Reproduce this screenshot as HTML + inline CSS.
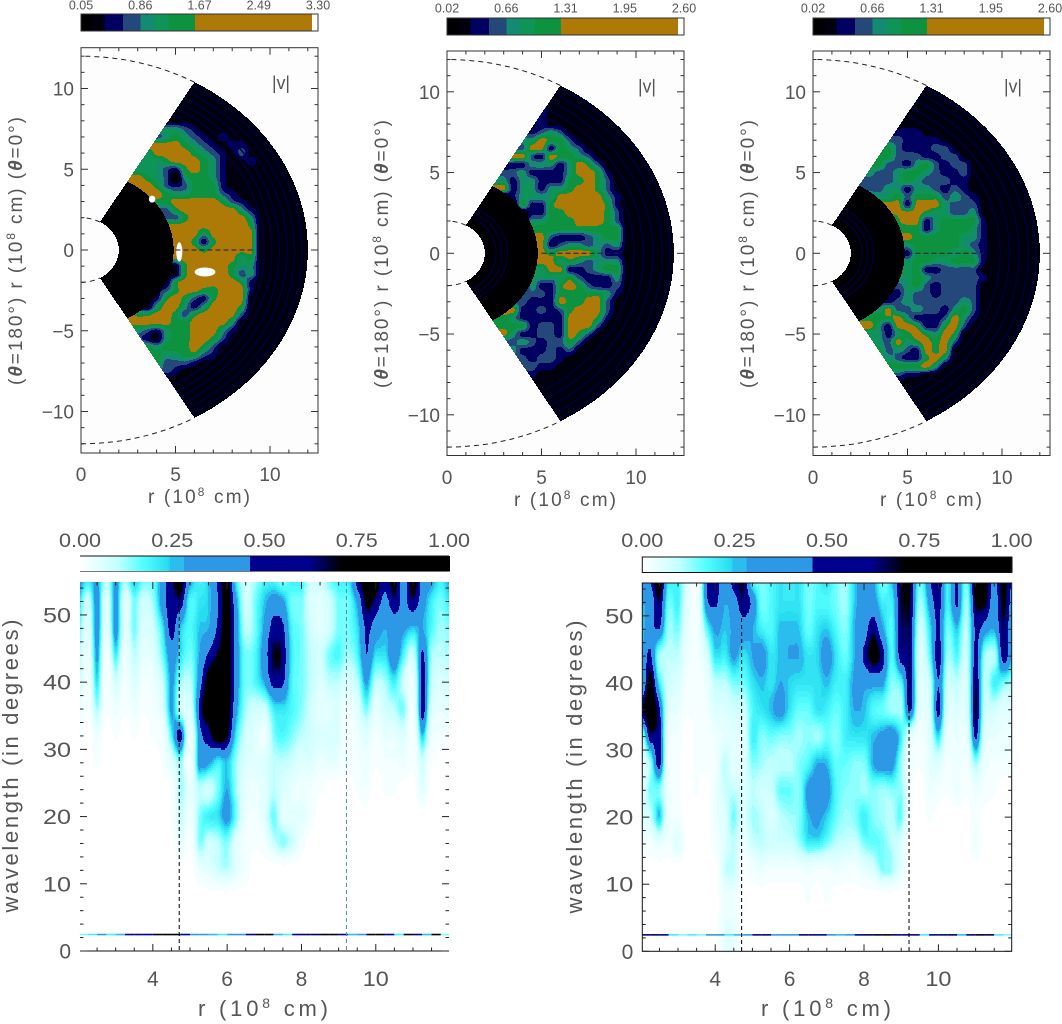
<!DOCTYPE html>
<html>
<head>
<meta charset="utf-8">
<title>Velocity magnitude wedges and wavelength spectra</title>
<style>
html,body{margin:0;padding:0;background:#fff;}
svg{display:block;}
text{font-family:"Liberation Sans",sans-serif;fill:#555555;}
</style>
</head>
<body>
<svg id="figure" xmlns="http://www.w3.org/2000/svg" width="1062" height="1024" viewBox="0 0 1062 1024">
<g id="plots"></g>
<g>
<text x="199" y="503" text-anchor="middle" font-size="19" textLength="102">r (10<tspan dy="-7" font-size="12">8</tspan><tspan dy="7"> cm)</tspan></text>
<text x="565" y="506" text-anchor="middle" font-size="19" textLength="102">r (10<tspan dy="-7" font-size="12">8</tspan><tspan dy="7"> cm)</tspan></text>
<text x="931" y="506" text-anchor="middle" font-size="19" textLength="102">r (10<tspan dy="-7" font-size="12">8</tspan><tspan dy="7"> cm)</tspan></text>
<text transform="translate(22,251) rotate(-90)" text-anchor="middle" font-size="19" textLength="268">(<tspan font-weight="bold" font-style="italic">θ</tspan>=180°)  r (10<tspan dy="-7" font-size="12">8</tspan><tspan dy="7"> cm)  (</tspan><tspan font-weight="bold" font-style="italic">θ</tspan>=0°)</text>
<text transform="translate(388,254) rotate(-90)" text-anchor="middle" font-size="19" textLength="268">(<tspan font-weight="bold" font-style="italic">θ</tspan>=180°)  r (10<tspan dy="-7" font-size="12">8</tspan><tspan dy="7"> cm)  (</tspan><tspan font-weight="bold" font-style="italic">θ</tspan>=0°)</text>
<text transform="translate(754,254) rotate(-90)" text-anchor="middle" font-size="19" textLength="268">(<tspan font-weight="bold" font-style="italic">θ</tspan>=180°)  r (10<tspan dy="-7" font-size="12">8</tspan><tspan dy="7"> cm)  (</tspan><tspan font-weight="bold" font-style="italic">θ</tspan>=0°)</text>
<text x="263" y="1016" text-anchor="middle" font-size="22" textLength="130">r (10<tspan dy="-8" font-size="14">8</tspan><tspan dy="8"> cm)</tspan></text>
<text x="826" y="1016" text-anchor="middle" font-size="22" textLength="130">r (10<tspan dy="-8" font-size="14">8</tspan><tspan dy="8"> cm)</tspan></text>
<text transform="translate(18,766) rotate(-90)" text-anchor="middle" font-size="22" textLength="293">wavelength (in degrees)</text>
<text transform="translate(582,767) rotate(-90)" text-anchor="middle" font-size="22" textLength="293">wavelength (in degrees)</text>
</g>
</svg>
<script>
// ---- wedge chart values: speed levels on a regular (x, y) grid, in 10^8 cm ----
const wedgeXs = [2.5,3,3.5,4,4.5,5,5.5,6,6.5,7,7.5,8,8.5,9,9.5,10];
const wedgeYs = [8,7.5,7,6.5,6,5.5,5,4.5,4,3.5,3,2.5,2,1.5,1,0.5,0,-0.5,-1,-1.5,-2,-2.5,-3,-3.5,-4,-4.5,-5,-5.5,-6,-6.5,-7,-7.5,-8];
const speedLevelsA = [
[0,0,0,1,1,1,1,1,1,1,1,1,1,1,1,1],
[0,0,0,4,4,4,3,2,1,1,1,1,1,1,1,1],
[0,0,4,3,4,5,4,3,2,1,2,1,1,1,1,1],
[0,0,6,6,6,6,5,4,3,2,1,2,2,1,1,1],
[0,4,4,6,6,6,6,5,4,3,2,1,3,1,1,1],
[4,4,4,4,5,6,6,6,5,4,2,1,1,2,1,1],
[4,4,4,4,3,2,5,6,5,4,2,1,1,1,1,1],
[6,6,5,4,3,0,4,5,5,4,2,1,1,1,1,1],
[6,6,6,5,3,2,3,5,5,5,2,1,1,1,1,1],
[6,6,6,6,5,4,4,5,5,5,3,2,1,1,1,1],
[6,6,6,5,5,6,6,6,6,6,5,3,2,1,1,1],
[0,0,3,3,3,5,6,6,6,6,6,6,4,2,1,1],
[0,0,0,1,3,3,5,6,6,6,6,6,6,4,1,1],
[0,0,0,0,6,6,6,6,6,6,6,6,6,5,1,1],
[0,0,0,0,6,6,6,6,4,6,6,6,6,6,1,1],
[0,0,0,0,6,6,6,5,2,5,6,6,6,6,1,1],
[0,0,0,0,6,6,6,6,5,6,6,6,6,6,1,1],
[0,0,0,0,6,6,6,6,6,6,6,6,4,5,1,1],
[0,0,0,0,1,1,5,6,6,6,6,5,4,4,1,1],
[0,0,0,0,1,1,5,6,6,6,6,5,3,4,1,1],
[0,0,0,1,1,5,6,6,6,6,6,6,5,2,1,1],
[0,0,2,2,3,5,6,6,5,5,6,6,6,2,1,1],
[2,2,2,2,5,6,5,3,2,5,6,6,6,1,1,1],
[2,2,1,4,6,6,4,2,4,6,6,6,5,1,1,1],
[6,5,5,6,6,5,3,5,6,6,6,6,3,1,1,1],
[6,6,6,6,6,5,5,6,6,6,6,4,1,1,1,1],
[4,4,3,2,4,5,5,6,6,6,4,2,1,1,1,1],
[4,3,2,1,4,5,5,6,6,5,3,1,1,1,1,1],
[5,5,5,4,5,5,5,6,5,3,1,1,1,1,1,1],
[5,5,5,5,4,4,5,5,3,2,1,1,1,1,1,1],
[0,5,5,5,3,3,3,2,1,1,1,1,1,1,1,1],
[0,0,0,3,3,2,1,1,1,1,1,1,1,1,1,1],
[0,0,0,1,1,1,1,1,1,1,1,1,1,1,1,1]];
const speedLevelsB = [
[0,0,0,1,1,2,1,1,1,1,1,1,1,1,1,1],
[0,0,0,2,2,3,4,3,1,1,1,1,1,1,1,1],
[0,0,4,4,4,6,5,5,3,1,1,1,1,1,1,1],
[0,0,3,3,6,6,2,5,4,3,1,1,1,1,1,1],
[0,6,6,6,3,2,6,5,5,4,3,1,1,1,1,1],
[2,2,2,2,4,4,4,2,4,6,5,3,1,1,1,1],
[3,3,3,4,2,2,2,2,4,6,6,5,2,1,1,1],
[4,4,2,4,4,2,2,2,5,5,6,5,3,1,1,1],
[6,6,2,4,4,2,4,4,5,6,6,5,3,1,1,1],
[0,0,2,4,4,4,4,6,6,6,6,6,4,2,1,1],
[0,0,0,5,2,2,5,6,6,6,6,6,5,2,1,1],
[0,0,0,0,2,2,5,5,6,6,6,6,5,3,1,1],
[0,0,0,0,4,4,5,5,5,6,6,6,5,3,1,1],
[0,0,0,0,5,5,5,5,5,5,5,5,5,5,1,1],
[0,0,0,0,6,6,3,2,2,2,3,4,5,5,1,1],
[0,0,0,0,6,6,2,3,4,4,3,4,3,4,1,1],
[0,0,0,0,6,6,5,6,6,6,6,4,2,2,1,1],
[0,0,0,0,6,6,6,4,5,4,3,4,4,4,1,1],
[0,0,0,0,4,4,6,6,2,2,3,4,5,5,1,1],
[0,0,0,0,4,4,4,4,5,3,2,2,2,4,1,1],
[0,0,0,0,4,2,2,5,6,5,3,2,2,3,1,1],
[0,0,0,3,3,3,2,5,5,5,5,5,4,2,1,1],
[0,0,3,3,2,2,2,6,5,5,6,6,3,1,1,1],
[6,6,6,2,2,3,2,3,5,6,6,6,3,1,1,1],
[5,5,4,2,2,2,2,2,6,6,6,5,2,1,1,1],
[5,5,5,5,2,3,3,2,6,6,6,3,1,1,1,1],
[6,6,4,2,2,3,3,2,6,5,3,1,1,1,1,1],
[3,3,3,4,3,2,3,3,5,3,1,1,1,1,1,1],
[4,4,4,2,2,2,3,2,3,1,1,1,1,1,1,1],
[0,3,3,3,2,3,3,2,1,1,1,1,1,1,1,1],
[0,0,3,3,3,2,2,1,1,1,1,1,1,1,1,1],
[0,0,0,2,2,1,1,1,1,1,1,1,1,1,1,1],
[0,0,0,1,1,1,1,1,1,1,1,1,1,1,1,1]];
const speedLevelsC = [
[0,0,0,1,1,1,1,1,1,1,1,1,1,1,1,1],
[0,0,0,2,2,2,2,1,1,1,1,1,1,1,1,1],
[0,0,3,3,3,2,2,2,2,1,1,1,1,1,1,1],
[0,0,5,5,3,2,2,2,3,3,1,1,1,1,1,1],
[0,5,5,5,3,3,3,2,2,3,3,1,1,1,1,1],
[5,5,5,3,3,2,4,5,3,2,3,3,1,1,1,1],
[4,4,3,3,4,5,5,4,3,2,2,3,1,1,1,1],
[3,3,3,3,4,5,4,3,3,3,2,2,1,1,1,1],
[3,3,3,4,4,2,4,4,3,2,3,2,1,1,1,1],
[0,4,4,4,5,3,5,5,5,3,4,3,2,1,1,1],
[0,0,5,6,6,2,6,6,6,4,3,3,3,1,1,1],
[0,0,0,5,6,6,6,5,4,4,3,3,4,1,1,1],
[0,0,0,0,5,6,6,2,4,5,5,5,5,2,1,1],
[0,0,0,0,5,5,5,2,4,5,5,5,4,2,1,1],
[0,0,0,0,6,6,5,5,5,5,5,4,4,2,1,1],
[0,0,0,0,4,4,5,5,5,5,5,4,3,2,1,1],
[0,0,0,0,4,2,5,5,5,5,4,5,4,2,1,1],
[0,0,0,0,4,4,5,5,4,4,5,5,5,2,1,1],
[0,0,0,0,4,4,5,2,2,3,3,3,3,1,1,1],
[0,0,0,0,4,4,5,4,3,3,3,3,3,2,1,1],
[0,0,0,3,3,4,5,3,2,3,3,3,3,1,1,1],
[0,0,0,2,2,4,3,3,2,3,3,3,3,1,1,1],
[0,0,2,2,3,4,3,3,3,3,3,4,3,1,1,1],
[4,4,4,6,3,3,4,3,3,2,4,5,3,1,1,1],
[5,5,5,5,6,4,2,2,2,3,6,4,2,1,1,1],
[6,6,4,2,6,6,5,2,2,5,6,3,1,1,1,1],
[4,4,4,2,4,5,6,5,4,6,5,1,1,1,1,1],
[4,4,4,3,6,4,5,6,5,6,3,1,1,1,1,1],
[5,5,5,3,4,3,2,6,5,6,1,1,1,1,1,1],
[0,4,4,4,3,2,2,5,6,4,1,1,1,1,1,1],
[0,0,5,5,5,5,5,6,4,1,1,1,1,1,1,1],
[0,0,0,3,3,2,2,1,1,1,1,1,1,1,1,1],
[0,0,0,1,1,1,1,1,1,1,1,1,1,1,1,1]];
const ringRadiiA = [9.7,10.1,10.5,10.9,11.3,11.7];
const ringRadiiB = [2.6,2.9,3.2,9.9,10.4,10.9,11.4,11.8];
const ringRadiiC = [2.6,2.9,3.2,9.9,10.4,10.9,11.4,11.8];
const hotSpotX = [3.76,5.2,6.56];
const hotSpotY = [3.15,-0.12,-1.36];
const hotSpotHalfWidth = [0.17,0.16,0.55];
const hotSpotHalfHeight = [0.22,0.6,0.28];
const wedgeXTicks = [0,5,10];
const wedgeYTicks = [-10,-5,0,5,10];
const speedBarTicksA = ["0.05","0.86","1.67","2.49","3.30"];
const speedBarTicksB = ["0.02","0.66","1.31","1.95","2.60"];
const speedBarFractions = [0,0.05,0.1,0.177,0.25,0.31,0.37,0.48,0.975,1];
const speedBarLevels = [0,1,2,3,3.7,4.3,5,6,7];
const levelEdges = [0.5,1.5,2.5,3.4,4,4.6,5.5,6.6];
const levelColors = ["#000002","#00000e","#000060","#24487a","#158a72","#0f9457","#0d9340","#ad7a08","#ffffff"];

// ---- spectrum chart values: power in percent, rows = wavelength, columns = radius ----
const spectrumRadii = [2,2.25,2.5,2.75,3,3.25,3.5,3.75,4,4.25,4.5,4.75,5,5.25,5.5,5.75,6,6.25,6.5,6.75,7,7.25,7.5,7.75,8,8.25,8.5,8.75,9,9.25,9.5,9.75,10,10.25,10.5,10.75,11,11.25,11.5,11.75,12];
const spectrumWavelengths = [55,52,48,44,40,36,32,28,24,20,16,12,8,4];
const spectrumLeft = [
[35,20,30,10,30,12,25,15,15,35,60,80,30,20,25,50,85,20,8,12,20,20,15,20,20,8,8,15,20,20,55,85,85,50,80,35,85,40,30,20,30],
[25,8,35,5,35,5,15,8,12,35,60,60,18,22,25,45,85,30,8,15,25,35,30,15,15,6,5,8,15,15,30,75,60,40,60,40,60,35,20,15,22],
[18,5,35,4,35,5,15,6,8,20,55,25,18,25,28,50,85,35,10,15,30,55,50,18,15,8,5,8,15,15,22,50,35,28,35,30,25,28,18,12,15],
[12,3,30,2,20,3,10,4,5,15,35,22,15,28,50,70,90,35,15,18,35,70,60,20,15,10,8,15,18,12,18,45,22,22,40,18,8,50,12,10,12],
[10,2,22,1,8,2,6,2,3,8,30,12,10,35,85,95,95,35,15,18,28,55,50,18,15,10,6,10,10,6,10,30,10,12,20,8,3,55,10,6,8],
[5,1,12,1,3,1,3,1,2,5,30,8,6,50,90,95,90,30,12,8,8,20,22,18,14,8,4,5,6,2,5,15,4,8,10,15,2,60,6,4,5],
[2,0,3,0,1,0,1,0,1,2,18,55,3,35,55,90,70,20,8,5,3,14,18,14,10,8,6,6,6,1,3,5,2,4,4,6,1,25,3,2,2],
[0,0,1,0,0,0,0,0,0,1,5,12,2,35,30,20,25,12,6,5,6,10,10,8,5,6,3,4,3,1,2,3,1,2,2,3,1,8,1,0,0],
[0,0,0,0,0,0,0,0,0,0,1,12,4,10,8,15,28,12,4,3,5,10,6,4,3,2,1,0,0,0,1,2,0,1,1,0,0,5,0,0,0],
[0,0,0,0,0,0,0,0,0,0,1,8,3,14,20,22,32,15,3,2,5,16,5,4,5,2,0,0,0,0,0,0,0,0,0,0,0,0,0,0,0],
[0,0,0,0,0,0,0,0,0,0,0,4,1,14,8,10,14,5,2,1,2,8,14,8,2,0,0,0,0,0,0,0,0,0,0,0,0,0,0,0,0],
[0,0,0,0,0,0,0,0,0,0,0,0,0,3,5,8,10,5,2,0,0,0,0,0,0,0,0,0,0,0,0,0,0,0,0,0,0,0,0,0,0],
[0,0,0,0,0,0,0,0,0,0,0,0,0,0,0,0,0,0,0,0,0,0,0,0,0,0,0,0,0,0,0,0,0,0,0,0,0,0,0,0,0],
[0,0,0,0,0,0,0,0,0,0,0,0,0,0,0,0,0,0,0,0,0,0,0,0,0,0,0,0,0,0,0,0,0,0,0,0,0,0,0,0,0]];
const spectrumRight = [
[30,45,85,20,20,6,2,40,60,30,55,70,20,15,18,22,20,22,15,18,22,15,12,25,35,30,15,25,70,70,15,40,65,20,50,15,85,80,40,80,40],
[28,30,65,15,20,5,2,35,50,28,35,60,40,15,18,22,22,22,15,18,18,15,12,25,35,35,20,20,70,65,12,30,55,20,50,12,75,75,35,75,35],
[22,40,45,12,15,4,2,15,30,25,30,35,28,20,18,26,26,25,16,22,25,18,14,28,35,60,30,18,65,60,8,20,50,15,25,10,50,35,28,65,28],
[25,50,12,10,10,3,2,6,22,20,30,22,28,34,22,26,28,28,22,24,34,22,16,28,50,85,55,18,60,55,6,15,60,12,18,8,55,12,10,60,25],
[18,85,20,8,6,2,1,3,10,10,15,15,22,26,22,28,24,22,22,22,26,20,20,30,30,32,30,14,18,60,5,8,45,8,10,6,65,10,20,15,12],
[60,95,50,5,4,1,1,2,6,6,8,8,18,22,26,34,22,16,16,22,20,16,20,28,26,18,16,12,12,50,4,6,55,5,6,5,70,8,8,5,5],
[8,60,60,3,2,0,1,1,3,4,5,5,20,14,16,14,14,12,14,12,16,14,20,22,22,26,32,38,20,5,2,5,22,3,4,3,50,5,4,3,3],
[4,12,55,2,1,0,1,1,2,10,4,5,14,12,10,10,10,14,18,28,26,16,16,14,14,28,36,34,12,2,1,4,6,2,3,2,12,3,2,2,2],
[4,15,15,3,1,0,1,0,3,8,10,6,10,8,9,16,16,14,32,34,34,18,14,14,12,14,12,14,14,2,0,3,2,1,3,1,3,2,1,0,0],
[6,8,25,3,2,0,0,0,3,6,15,6,12,10,6,10,12,14,26,30,24,16,12,14,20,14,12,10,16,1,0,1,0,0,0,0,2,0,0,0,0],
[2,2,4,2,6,0,0,0,2,5,10,3,8,10,8,8,8,12,20,20,15,10,9,8,14,16,15,10,6,0,0,0,0,0,0,0,3,0,0,0,0],
[0,0,0,0,0,0,0,0,0,8,10,1,2,3,2,2,2,2,3,2,2,3,2,2,4,6,14,12,4,0,0,0,0,0,0,0,0,0,0,0,0],
[0,0,0,0,0,0,0,0,0,3,3,0,0,0,0,0,0,0,1,0,1,0,0,0,0,0,0,0,0,0,0,0,0,0,0,0,0,0,0,0,0],
[0,0,0,0,0,0,0,0,0,4,4,0,0,0,0,0,0,0,0,0,0,0,0,0,0,0,0,0,0,0,0,0,0,0,0,0,0,0,0,0,0]];
const hairlineLeft = [15,20,30,20,25,60,60,60,70,75,75,60,40,35,25,20,30,30,60,70,70,25,20,60,65,65,70,70,60,25,30,70,75,60,20,70,60,25,75,15,15];
const hairlineRight = [60,65,60,20,15,20,15,30,30,20,25,40,55,50,40,30,40,50,60,50,30,25,30,60,65,70,70,60,55,50,20,60,50,65,25,60,70,65,20,15,40];
const spectrumRadiusTicks = [4,6,8,10];
const spectrumWavelengthTicks = [0,10,20,30,40,50];
const spectrumBarTicks = ["0.00","0.25","0.50","0.75","1.00"];
const hairlineWavelength = [2.45];
const shellBoundaries = [4.71,9.21];
const spectrumStops = [0,10,17,24,24.5,28,28.01,46,46.01,62,71,100];
const spectrumStopColors = [[255,255,255],[196,255,255],[85,255,255],[40,220,240],[42,189,238],[42,189,238],[45,153,230],[45,153,230],[0,0,143],[0,0,143],[0,0,0],[0,0,0]];

// ---- layout (pixels) ----
const wedgePanels = [
 {id:"a",ox:81,oy:250,top:47.7,bottom:453,barTop:14,labelBase:9.5,xTickBase:481,inner:4.9,grid:speedLevelsA,rings:ringRadiiA,barTicks:speedBarTicksA,spots:true},
 {id:"b",ox:447,oy:253.3,top:51,bottom:455.5,barTop:18,labelBase:12.5,xTickBase:484,inner:4.8,grid:speedLevelsB,rings:ringRadiiB,barTicks:speedBarTicksB,spots:false},
 {id:"c",ox:813,oy:253.3,top:51,bottom:455.5,barTop:18,labelBase:12.5,xTickBase:484,inner:4.85,grid:speedLevelsC,rings:ringRadiiC,barTicks:speedBarTicksB,spots:false}
];
const spectrumPanels = [
 {id:"d",left:80,right:449,top:582,bottom:951,barTop:556,grid:spectrumLeft,hair:hairlineLeft,fullFrame:false,secondLine:"#5b8c9c",labelBase:547},
 {id:"e",left:642.3,right:1011.7,top:583,bottom:951.3,barTop:557,grid:spectrumRight,hair:hairlineRight,fullFrame:true,secondLine:"#000",labelBase:547}
];
const NS = "http://www.w3.org/2000/svg";
const WX = 18.9, WY = 16.15, WIDTH_UNITS = 12.54;

function el(parent, tag, attrs){
  const node = document.createElementNS(NS, tag);
  for(const k in attrs) node.setAttribute(k, attrs[k]);
  parent.appendChild(node);
  return node;
}
function group(parent, name){
  const g = document.createElementNS(NS, "g");
  
  
  parent.appendChild(g);
  return g;
}
function label(parent, name, str, x, y, size, anchor, fit){
  const t = document.createElementNS(NS, "text");
  
  
  t.setAttribute("x", x);
  t.setAttribute("y", y);
  t.setAttribute("font-size", size);
  t.setAttribute("text-anchor", anchor);
  if(fit){
    t.setAttribute("textLength", fit);
    t.setAttribute("lengthAdjust", "spacingAndGlyphs");
  }
  t.textContent = str;
  parent.appendChild(t);
  return t;
}
function line(parent, name, x1, y1, x2, y2, color, width, dash){
  const l = document.createElementNS(NS, "line");
  
  
  l.setAttribute("x1", x1);
  l.setAttribute("y1", y1);
  l.setAttribute("x2", x2);
  l.setAttribute("y2", y2);
  l.setAttribute("stroke", color);
  l.setAttribute("stroke-width", width);
  if(dash) l.setAttribute("stroke-dasharray", dash);
  parent.appendChild(l);
  return l;
}
function cellRect(parent, name, x, y, w, h, fill){
  const r = document.createElementNS(NS, "rect");
  
  
  r.setAttribute("x", x);
  r.setAttribute("y", y);
  r.setAttribute("width", w);
  r.setAttribute("height", h);
  r.setAttribute("fill", fill);
  r.setAttribute("shape-rendering", "crispEdges");
  parent.appendChild(r);
  return r;
}
function levelColor(v){
  for(let i = 0; i < levelEdges.length; i++) if(v < levelEdges[i]) return levelColors[i];
  return levelColors[levelColors.length - 1];
}
function cubic(a, b, c, d, t){
  const v = b + 0.5*t*(c - a + t*(2*a - 5*b + 4*c - d + t*(3*(b - c) + d - a)));
  return Math.max(Math.min(b, c), Math.min(Math.max(b, c), v));
}
function smoothSample(grid, fc, fr){
  const rows = grid.length, cols = grid[0].length;
  fc = Math.max(0, Math.min(cols - 1, fc));
  fr = Math.max(0, Math.min(rows - 1, fr));
  const c0 = Math.min(cols - 2, Math.floor(fc)), r0 = Math.min(rows - 2, Math.floor(fr));
  const tc = fc - c0, tr = fr - r0;
  const at = (r, c) => grid[Math.max(0, Math.min(rows - 1, r))][Math.max(0, Math.min(cols - 1, c))];
  const col = r => cubic(at(r, c0 - 1), at(r, c0), at(r, c0 + 1), at(r, c0 + 2), tc);
  return cubic(col(r0 - 1), col(r0), col(r0 + 1), col(r0 + 2), tr);
}
function arcPath(p, r, a0, a1){
  const xs = v => p.ox + v*WX, ys = v => p.oy - v*WY;
  let d = "";
  for(let a = a0; a <= a1 + 0.001; a += 2){
    const t = a*Math.PI/180;
    d += (d ? "L" : "M") + xs(r*Math.cos(t)).toFixed(1) + " " + ys(r*Math.sin(t)).toFixed(1);
  }
  return d;
}
function drawWedge(root, p){
  const g = group(root, "wedge-panel-" + p.id);
  const xs = v => p.ox + v*WX, ys = v => p.oy - v*WY;
  const right = p.ox + WIDTH_UNITS*WX;
  cellRect(g, "plot-background", p.ox, p.top, right - p.ox, p.bottom - p.top, "#fdfdfd");

  // colour bar
  const bar = group(g, "speed-colorbar");
  const bw = right - p.ox;
  speedBarLevels.forEach((lv, i) => {
    const seg = cellRect(bar, "colorbar-segment", p.ox + speedBarFractions[i]*bw, p.barTop, (speedBarFractions[i+1]-speedBarFractions[i])*bw, 17, levelColor(lv));
    seg.setAttribute("data-level", lv);
  });
  const out = el(bar, "rect", {x:p.ox, y:p.barTop, width:bw, height:17, fill:"none", stroke:"#333", "stroke-width":1});
  
  
  p.barTicks.forEach((s, i) => {
    label(bar, "colorbar-tick-label", s, p.ox + i/4*bw, p.labelBase, 12.5, "middle");
  });

  // field cells, sampled through the axis functions
  const field = group(g, "speed-field");
  const dxGrid = wedgeXs[1] - wedgeXs[0], dyGrid = wedgeYs[0] - wedgeYs[1];
  const step = 1;
  for(let py = Math.floor(ys(12)); py < ys(-12); py += step){
    let runStart = null, runColor = null, px;
    for(px = p.ox; px <= p.ox + 12.1*WX; px += step){
      const x = (px + step/2 - p.ox)/WX, y = (p.oy - py - step/2)/WY;
      const r = Math.hypot(x, y);
      let color = null;
      if(r >= 2 && r <= 12 && Math.abs(y) <= 1.732*x){
        const v = r < p.inner ? 0 : smoothSample(p.grid, (x - wedgeXs[0])/dxGrid, (wedgeYs[0] - y)/dyGrid);
        color = levelColor(v);
      }
      if(color !== runColor){
        if(runColor) cellRect(field, "speed-contour-run", runStart, py, px - runStart, step, runColor);
        runStart = px; runColor = color;
      }
    }
    if(runColor) cellRect(field, "speed-contour-run", runStart, py, px - runStart, step, runColor);
  }
  // faint shells
  p.rings.forEach(r => {
    const ring = el(field, "path", {d:arcPath(p, r, -60, 60), fill:"none", stroke:"#00003c", "stroke-width":1.4});
    
    
  });
  if(p.spots){
    hotSpotX.forEach((sx, i) => {
      const e = el(field, "ellipse", {cx:xs(sx), cy:ys(hotSpotY[i]), rx:hotSpotHalfWidth[i]*WX, ry:hotSpotHalfHeight[i]*WY, fill:"#fff"});
      
      
    });
  }
  // dashed guides
  [[60,90,12],[-90,-60,12],[60,90,2],[-90,-60,2]].forEach(a => {
    const d = el(g, "path", {d:arcPath(p, a[2], a[0], a[1]), fill:"none", stroke:"#222", "stroke-width":1, "stroke-dasharray":"5,4"});
    
    
  });
  line(g, "equator-dashed-line", xs(5), p.oy, xs(9.2), p.oy, "#221a44", 1, "5,3");

  // frame and ticks
  const axes = group(g, "axes");
  const f = el(axes, "rect", {x:p.ox, y:p.top, width:bw, height:p.bottom - p.top, fill:"none", stroke:"#333", "stroke-width":1});
  
  
  for(let v = 0; v <= 12; v++){
    const major = wedgeXTicks.includes(v), len = major ? 7 : 3.5;
    line(axes, "x-tick", xs(v), p.top, xs(v), p.top + len, "#333", 1);
    line(axes, "x-tick", xs(v), p.bottom, xs(v), p.bottom - len, "#333", 1);
  }
  for(let v = -12; v <= 12; v++){
    const major = wedgeYTicks.includes(v), len = major ? 7 : 3.5;
    line(axes, "y-tick", p.ox, ys(v), p.ox + len, ys(v), "#333", 1);
    line(axes, "y-tick", right, ys(v), right - len, ys(v), "#333", 1);
  }
  wedgeXTicks.forEach(v => label(axes, "x-tick-label", String(v), xs(v), p.xTickBase, 19, "middle"));
  wedgeYTicks.forEach(v => label(axes, "y-tick-label", String(v).replace("-", "\u2212"), p.ox - 7, ys(v) + 7, 19, "end"));
  label(g, "speed-magnitude-label", "|v|", p.ox + 200, p.oy - 161, 18, "middle", 18);
}
function spectrumColor(v){
  v = Math.max(0, Math.min(100, v));
  let i = 0;
  while(i < spectrumStops.length - 2 && v > spectrumStops[i+1]) i++;
  const t = (v - spectrumStops[i])/(spectrumStops[i+1] - spectrumStops[i]);
  const a = spectrumStopColors[i], b = spectrumStopColors[i+1];
  return "rgb(" + Math.round(a[0]+(b[0]-a[0])*t) + "," + Math.round(a[1]+(b[1]-a[1])*t) + "," + Math.round(a[2]+(b[2]-a[2])*t) + ")";
}
function wavelengthRow(w){
  const rows = spectrumWavelengths;
  if(w >= rows[0]) return 0;
  for(let i = 0; i < rows.length - 1; i++){
    if(w <= rows[i] && w >= rows[i+1]) return i + (rows[i] - w)/(rows[i] - rows[i+1]);
  }
  return rows.length - 1;
}
function drawSpectrum(root, p){
  const g = group(root, "spectrum-panel-" + p.id);
  const unit = (p.right - p.left)/(11.97 - 2.04);
  const xs = r => p.left + (r - 2.04)*unit;
  const rs = px => 2.04 + (px - p.left)/unit;
  const ly = (p.bottom - p.top)/54.9;
  const ys = w => p.bottom - w*ly;
  const ws = py => (p.bottom - py)/ly;

  // colour bar
  const bar = group(g, "power-colorbar");
  const bw = p.right - p.left;
  for(let i = 0; i < bw; i += 2){
    cellRect(bar, "colorbar-cell", p.left + i, p.barTop, 2, 15.5, spectrumColor((i + 1)/bw*100));
  }
  if(p.fullFrame){
    const o = el(bar, "rect", {x:p.left, y:p.barTop, width:bw, height:15.5, fill:"none", stroke:"#111", "stroke-width":1});
    
    
  } else {
    line(bar, "colorbar-top-edge", p.left, p.barTop, p.right, p.barTop, "#111", 1);
    line(bar, "colorbar-bottom-edge", p.left, p.barTop + 15.5, p.right, p.barTop + 15.5, "#777", 1);
  }
  spectrumBarTicks.forEach((s, i) => {
    label(bar, "colorbar-tick-label", s, p.left + i/4*bw, p.labelBase, 19, "middle", 42);
  });

  // field cells: vertical colour runs, interpolated in log power so peaks stay narrow
  const field = group(g, "power-field");
  const logGrid = p.grid.map(row => row.map(v => Math.log(Math.max(0, v) + 2)));
  const dr = spectrumRadii[1] - spectrumRadii[0];
  const pxLeft = Math.round(p.left), pxRight = Math.round(p.right);
  const pyTop = Math.round(p.top), pyBottom = Math.round(p.bottom);
  for(let px = pxLeft; px < pxRight; px++){
    const fc = (rs(px + 0.5) - spectrumRadii[0])/dr;
    let runStart = null, runColor = null, py;
    for(py = pyTop; py < pyBottom; py += 2){
      const v = Math.exp(smoothSample(logGrid, fc, wavelengthRow(ws(py + 1)))) - 2;
      const color = spectrumColor(v < 0.6 ? 0 : Math.round(v/1.5)*1.5);
      if(color !== runColor){
        if(runColor && runColor !== "rgb(255,255,255)") cellRect(field, "power-cell", px, runStart, 1, py - runStart, runColor);
        runStart = py; runColor = color;
      }
    }
    if(runColor && runColor !== "rgb(255,255,255)") cellRect(field, "power-cell", px, runStart, 1, pyBottom - runStart, runColor);
  }
  // thin band at the shortest wavelength
  const hair = group(field, "short-wavelength-band");
  p.hair.forEach((v, i) => {
    if(i === p.hair.length - 1) return;
    const x1 = Math.max(p.left, xs(spectrumRadii[i]));
    const x2 = Math.min(p.right, xs(spectrumRadii[i+1]));
    line(hair, "band-segment", x1, ys(hairlineWavelength[0]), x2, ys(hairlineWavelength[0]), spectrumColor(v), 1.6);
  });

  // axes
  const axes = group(g, "axes");
  if(p.fullFrame){
    const f = el(axes, "rect", {x:p.left, y:p.top, width:bw, height:p.bottom - p.top, fill:"none", stroke:"#111", "stroke-width":1});
    
    
  } else {
    line(axes, "x-axis-line", p.left, p.bottom, p.right, p.bottom, "#111", 1);
  }
  for(let r = 2.5; r <= 11.75; r += 0.5){
    const major = spectrumRadiusTicks.includes(r), len = major ? 7 : 3.5;
    line(axes, "x-tick", xs(r), p.bottom, xs(r), p.bottom - len, "#222", 1);
    line(axes, "x-tick", xs(r), p.top, xs(r), p.top + len, "#222", 1);
  }
  for(let w = 0; w <= 54; w += 2){
    const major = spectrumWavelengthTicks.includes(w), len = major ? 7 : 3.5;
    line(axes, "y-tick", p.left, ys(w), p.left + len, ys(w), "#222", 1);
    line(axes, "y-tick", p.right, ys(w), p.right - len, ys(w), "#222", 1);
  }
  spectrumRadiusTicks.forEach(r => {
    const s = String(r);
    label(axes, "x-tick-label", s, xs(r), 986, 21, "middle", s.length > 1 ? 26 : 0);
  });
  spectrumWavelengthTicks.forEach(w => {
    const s = String(w);
    label(axes, "y-tick-label", s, p.left - 9, ys(w) + 7.5, 21, "end", s.length > 1 ? 28 : 0);
  });
  line(g, "convection-zone-inner-line", xs(shellBoundaries[0]), p.top, xs(shellBoundaries[0]), p.bottom, "#000", 1, "4,3");
  line(g, "convection-zone-outer-line", xs(shellBoundaries[1]), p.top, xs(shellBoundaries[1]), p.bottom, p.secondLine, 1, "4,3");
}
const plotsRoot = document.getElementById("plots");
wedgePanels.forEach(p => drawWedge(plotsRoot, p));
spectrumPanels.forEach(p => drawSpectrum(plotsRoot, p));
</script>
</body>
</html>
